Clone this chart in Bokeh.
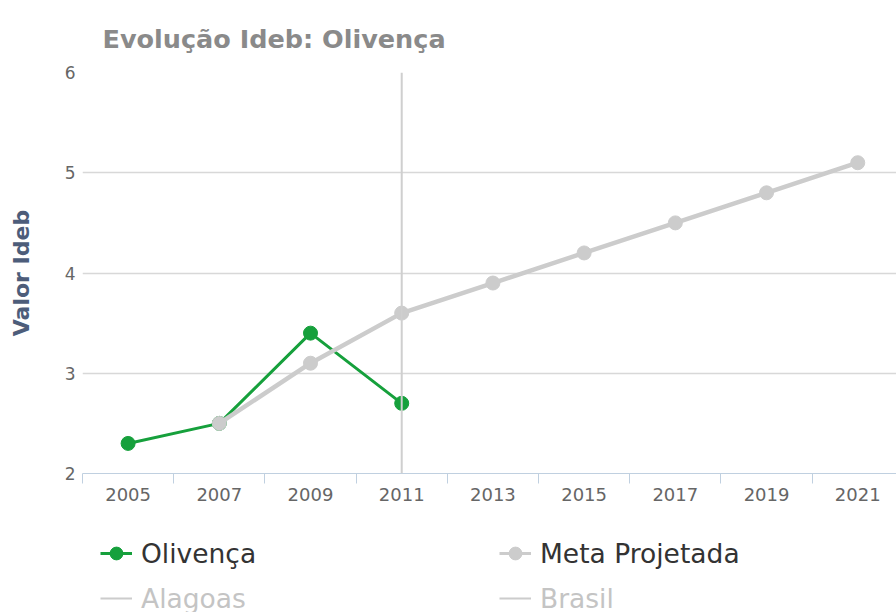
from bokeh.plotting import figure
from bokeh.models import FixedTicker, Legend, LegendItem, Span, Range1d
from bokeh.layouts import column
from bokeh.embed import file_html
from bokeh.resources import INLINE

# ---- data ----
categories = [2005, 2007, 2009, 2011, 2013, 2015, 2017, 2019, 2021]
tick_labels = ["2005", "2007", "2009", "2011", "2013", "2015", "2017", "2019", "2021"]
olivenca_years = [2005, 2007, 2009, 2011]
olivenca_values = [2.3, 2.5, 3.4, 2.7]
meta_years = [2007, 2009, 2011, 2013, 2015, 2017, 2019, 2021]
meta_values = [2.5, 3.1, 3.6, 3.9, 4.2, 4.5, 4.8, 5.1]
y_ticks = [2, 3, 4, 5, 6]
legend_labels = ["Olivença", "Meta Projetada", "Alagoas", "Brasil"]
crosshair_year = olivenca_years[-1]

FONT = "DejaVu Sans"
GREEN = "#16a03c"
GRAY = "#cccccc"

p = figure(width=896, height=530, output_backend="svg", toolbar_location=None,
           x_range=(categories[0] - 1, categories[-1] + 0.85), y_range=(2, 6),
           min_border_left=82, min_border_right=0, min_border_top=72,
           min_border_bottom=57)
p.outline_line_color = None
p.background_fill_color = "white"
p.border_fill_color = "white"

# title
p.title.text = "Evolução Ideb: Olivença"
p.title.text_font = FONT
p.title.text_font_size = "25.5px"
p.title.text_font_style = "bold"
p.title.text_color = "#8a8a8a"
p.title.align = "left"
p.title.vertical_align = "top"
p.title.offset = 20
p.title.standoff = 34

# x axis: labels at categories, tick marks at boundaries
bounds = [c - 1 for c in categories] + [categories[-1] + 1]
p.xaxis.ticker = FixedTicker(ticks=categories, minor_ticks=bounds)
p.xaxis.major_label_overrides = {c: l for c, l in zip(categories, tick_labels)}
p.xaxis.major_tick_line_color = None
p.xaxis.major_tick_out = 0
p.xaxis.major_tick_in = 0
p.xaxis.minor_tick_line_color = "#c0d0e0"
p.xaxis.minor_tick_out = 10
p.xaxis.minor_tick_in = 0
p.xaxis.axis_line_color = "#c0d0e0"
p.xaxis.axis_line_width = 1
p.xaxis.major_label_text_font = FONT
p.xaxis.major_label_text_font_size = "18px"
p.xaxis.major_label_text_color = "#666666"
p.xaxis.major_label_standoff = 4

# y axis
p.yaxis.ticker = FixedTicker(ticks=y_ticks)
p.yaxis.axis_line_color = None
p.yaxis.major_tick_line_color = None
p.yaxis.major_tick_out = 0
p.yaxis.major_tick_in = 0
p.yaxis.minor_tick_line_color = None
p.yaxis.major_label_text_font = FONT
p.yaxis.major_label_text_font_size = "17px"
p.yaxis.major_label_text_color = "#666666"
p.yaxis.major_label_standoff = 7
p.yaxis.axis_label = "Valor Ideb"
p.yaxis.axis_label_text_font = FONT
p.yaxis.axis_label_text_font_size = "22px"
p.yaxis.axis_label_text_font_style = "bold"
p.yaxis.axis_label_text_color = "#4d5d7a"
p.yaxis.axis_label_standoff = 28

# grids
p.xgrid.grid_line_color = None
p.ygrid.ticker = FixedTicker(ticks=y_ticks)
p.ygrid.grid_line_color = "#d8d8d8"
p.ygrid.grid_line_width = 1.5

p.add_layout(Span(location=crosshair_year, dimension="height",
                  line_color="#cfcfcf", line_width=2))

# series
p.line(olivenca_years, olivenca_values, line_color=GREEN, line_width=3)
p.scatter(olivenca_years, olivenca_values, size=14, fill_color=GREEN,
          line_color=GREEN)
p.line(meta_years, meta_values, line_color=GRAY, line_width=4.5)
p.scatter(meta_years, meta_values, size=14, fill_color=GRAY, line_color=GRAY)

# ---- legend strip (swatch renderers sit outside the visible range) ----
q = figure(width=896, height=82, output_backend="svg", toolbar_location=None,
           x_range=Range1d(0, 1), y_range=Range1d(0, 1),
           min_border_left=0, min_border_right=0, min_border_top=0,
           min_border_bottom=0)
q.axis.visible = False
q.grid.visible = False
q.outline_line_color = None
q.border_fill_color = "white"
q.background_fill_color = "white"

off = [-5]
d_ol_l = q.line(off, off, line_color=GREEN, line_width=3)
d_ol_p = q.scatter(off, off, size=14, fill_color=GREEN, line_color=GREEN)
d_me_l = q.line(off, off, line_color=GRAY, line_width=3)
d_me_p = q.scatter(off, off, size=14, fill_color=GRAY, line_color=GRAY)
d_al = q.line(off, off, line_color="#cccccc", line_width=2)
d_br = q.line(off, off, line_color="#cccccc", line_width=2)


def make_legend(items, color, loc):
    lg = Legend(items=items, orientation="horizontal", location=loc)
    lg.label_text_font = FONT
    lg.label_text_font_size = "26.5px"
    lg.label_text_color = color
    lg.glyph_width = 32
    lg.glyph_height = 32
    lg.label_standoff = 9
    lg.label_width = 340
    lg.spacing = 18
    lg.label_height = 24
    lg.border_line_color = None
    lg.background_fill_alpha = 0
    lg.margin = 0
    lg.padding = 0
    return lg


leg1 = make_legend([
    LegendItem(label=legend_labels[0], renderers=[d_ol_l, d_ol_p]),
    LegendItem(label=legend_labels[1], renderers=[d_me_l, d_me_p]),
], "#333333", (18, 43))
leg2 = make_legend([
    LegendItem(label=legend_labels[2], renderers=[d_al]),
    LegendItem(label=legend_labels[3], renderers=[d_br]),
], "#c4c4c4", (18, -2))
q.add_layout(leg1, "center")
q.add_layout(leg2, "center")

layout = column(p, q, spacing=0)
open("out.html", "w").write(file_html(layout, INLINE))
